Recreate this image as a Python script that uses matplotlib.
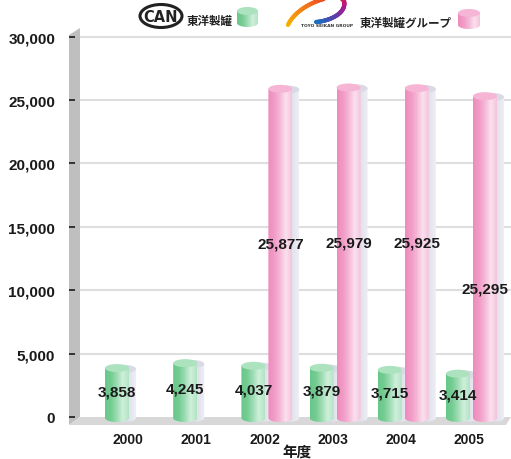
import numpy as np
import matplotlib
matplotlib.use("Agg")
import matplotlib.pyplot as plt
from matplotlib.colors import LinearSegmentedColormap
from matplotlib.patches import Ellipse, Polygon
from matplotlib.collections import LineCollection

plt.rcParams["font.family"] = ["Liberation Sans", "Noto Sans CJK JP", "DejaVu Sans"]

# 東洋製罐 (single) vs 東洋製罐グループ (group), by fiscal year
years = ["2000", "2001", "2002", "2003", "2004", "2005"]
can_values = [3858, 4245, 4037, 3879, 3715, 3414]
group_years = ["2002", "2003", "2004", "2005"]
group_values = [25877, 25979, 25925, 25295]
y_ticks = [0, 5000, 10000, 15000, 20000, 25000, 30000]

GREEN = ["#68c888", "#74cc92", "#9edcb4", "#d0f0db", "#b0e4c3"]
GREEN_TOP = "#ade2bf"
PINK = ["#ef8bbc", "#f19bc6", "#f5b8d7", "#fbe0ee", "#f4c4dc"]
PINK_TOP = "#f6b5d4"
SHADE = ["#c9c9db", "#dadae7", "#eeeef5"]

W, H = 511, 460
PX = 0.012683            # pixels per unit on the value axis
ZERO_PX = 418            # pixel row of value 0
G0_PX, G_STEP = 128, 68.2  # pixel column of first year, spacing


def cylinder(ax, xc, y0, y1, w, eh, colors, top, z):
    """Shaded cylinder from y0 (base) to y1 (top)."""
    s = 1 if y1 >= y0 else -1
    x0 = xc - w / 2
    t = np.linspace(np.pi, 2 * np.pi, 40)
    arc = list(zip(xc - w / 2 * np.cos(t + np.pi), y0 + s * eh / 2 * np.sin(t)))
    verts = [(x0, y1)] + arc + [(x0 + w, y1)]
    clip = Polygon(verts, closed=True, transform=ax.transData,
                   facecolor="none", edgecolor="none")
    cmap = LinearSegmentedColormap.from_list("cyl", colors)
    im = ax.imshow(np.linspace(0, 1, 128).reshape(1, -1), cmap=cmap,
                   extent=[x0, x0 + w, y0 - s * eh, y1], aspect="auto",
                   interpolation="bilinear", zorder=z)
    im.set_clip_path(clip)
    if top is not None:
        ax.add_patch(Ellipse((xc, y1), w, eh, facecolor=top,
                             edgecolor="none", zorder=z + 0.01))


fig = plt.figure(figsize=(W / 100, H / 100), dpi=100)

# background layer in pixel coordinates: wall, floor, legend
bg = fig.add_axes([0, 0, 1, 1])
bg.set_zorder(0)
bg.set_xlim(0, W)
bg.set_ylim(H, 0)
bg.axis("off")
bg.add_patch(Polygon([(69, 36), (80, 29), (80, 418), (69, 426)],
                     facecolor="#bfbfbf", edgecolor="none"))
bg.add_patch(Polygon([(80, 418), (511, 418), (506, 426), (69, 426)],
                     facecolor="#d8d8d8", edgecolor="none"))

# main chart axes
ax = fig.add_axes([69 / W, (H - 430) / H, (W - 69) / W, (430 - 28) / H])
ax.set_zorder(1)
ax.patch.set_visible(False)
xmin = (69 - G0_PX) / G_STEP
xmax = (W - G0_PX) / G_STEP
ymin = -(430 - ZERO_PX) / PX
ymax = (ZERO_PX - 28) / PX

ax.hlines(y_ticks[1:], (80 - G0_PX) / G_STEP, xmax, color="#dedede",
          lw=1.5, zorder=0.5)

bw = 24 / G_STEP
eh = 8 / PX
base = -80
dx_g = -11 / G_STEP
dx_p = 16 / G_STEP
dx_s = 7 / G_STEP

x = np.arange(len(years))
gx = np.array([years.index(y) for y in group_years])

for xi, v in zip(x, can_values):
    cylinder(ax, xi + dx_g + dx_s, base, v - 60, bw, eh, SHADE, SHADE[1], 1)
for xi, v in zip(gx, group_values):
    cylinder(ax, xi + dx_p + dx_s, base, v - 60, bw, eh, SHADE, SHADE[1], 1)
for xi, v in zip(x, can_values):
    cylinder(ax, xi + dx_g, base, v, bw, eh, GREEN, GREEN_TOP, 2)
for xi, v in zip(gx, group_values):
    cylinder(ax, xi + dx_p, base, v, bw, eh, PINK, PINK_TOP, 3)

lab_kw = dict(ha="center", va="center", fontsize=11, fontweight="bold",
              color="#1a1a1a", zorder=6)
for xi, v in zip(x, can_values):
    ax.text(xi + dx_g, v * 0.53, f"{v:,}", **lab_kw)
pink_frac = [0.53, 0.53, 0.53, 0.40]
for xi, v, f in zip(gx, group_values, pink_frac):
    ax.text(xi + dx_p, v * f, f"{v:,}", **lab_kw)

ax.set_xlim(xmin, xmax)
ax.set_ylim(ymin, ymax)
ax.set_yticks(y_ticks)
ax.set_yticklabels([f"{v:,}" for v in y_ticks], fontsize=11,
                   fontweight="bold", color="#1a1a1a")
ax.set_xticks(x)
ax.set_xticklabels(years, fontsize=10, fontweight="bold", color="#1a1a1a")
ax.tick_params(axis="y", direction="in", length=4, width=1.4,
               color="#333333", pad=10)
ax.tick_params(axis="x", length=0, pad=2)
for sp in ax.spines.values():
    sp.set_visible(False)

fig.text(297 / W, 1 - 452 / H, "年度", ha="center", va="center",
         fontsize=10.5, fontweight="bold", color="#1a1a1a",
         family=["Noto Sans CJK JP"])

# legend: CAN mark + 東洋製罐
bg.add_patch(Ellipse((161, 17), 42, 23, facecolor="white",
                     edgecolor="#222222", lw=2.2))
bg.text(161, 17.5, "CAN", ha="center", va="center", fontsize=10.5,
        fontweight="bold", color="#222222", family=["DejaVu Sans"])
bg.text(187, 21, "東洋製罐", ha="left", va="center", fontsize=8.3,
        fontweight="bold", color="#222222", family=["Noto Sans CJK JP"])
cylinder(bg, 247.5, 24, 12, 21, 8, GREEN, GREEN_TOP, 2)

# legend: group swoosh + 東洋製罐グループ
def bezier(p0, p1, p2, p3, n=60):
    t = np.linspace(0, 1, n)[:, None]
    return ((1 - t) ** 3 * np.array(p0) + 3 * (1 - t) ** 2 * t * np.array(p1)
            + 3 * (1 - t) * t ** 2 * np.array(p2) + t ** 3 * np.array(p3))

curve = np.vstack([bezier((288, 26), (298, 4), (338, -8), (344, 2)),
                   bezier((344, 2), (347, 14), (330, 22), (316, 23))])
segs = np.stack([curve[:-1], curve[1:]], axis=1)
swoosh = LinearSegmentedColormap.from_list(
    "swoosh", ["#f7b500", "#f26b1d", "#e8242a", "#b5168f", "#5b3fa6", "#1b6fc2"])
lc = LineCollection(segs, cmap=swoosh, linewidths=3, capstyle="round")
lc.set_array(np.linspace(0, 1, len(segs)))
bg.add_collection(lc)
bg.text(301, 26, "TOYO SEIKAN GROUP", ha="left", va="center", fontsize=3.2,
        fontweight="bold", color="#333333", family=["DejaVu Sans"])
bg.text(360, 23, "東洋製罐グループ", ha="left", va="center", fontsize=8.3,
        fontweight="bold", color="#222222", family=["Noto Sans CJK JP"])
cylinder(bg, 469, 26, 14, 22, 8, PINK, PINK_TOP, 2)

fig.savefig("out.png", dpi=100, facecolor="white")
